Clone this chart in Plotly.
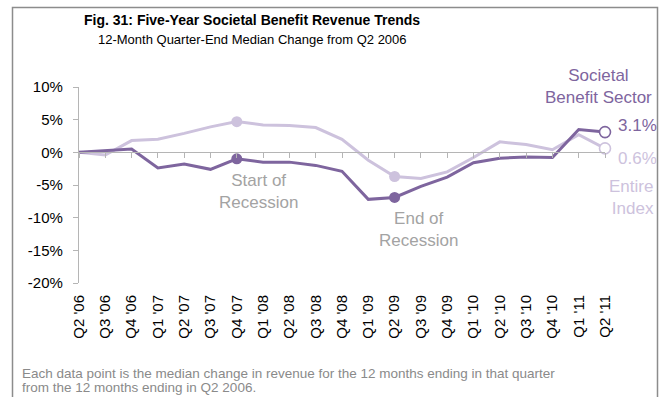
import plotly.graph_objects as go

# Quarter labels, Q2 2006 through Q2 2011
quarters = ["Q2 '06", "Q3 '06", "Q4 '06", "Q1 '07", "Q2 '07", "Q3 '07", "Q4 '07",
            "Q1 '08", "Q2 '08", "Q3 '08", "Q4 '08", "Q1 '09", "Q2 '09", "Q3 '09",
            "Q4 '09", "Q1 '10", "Q2 '10", "Q3 '10", "Q4 '10", "Q1 '11", "Q2 '11"]

# 12-month median revenue change vs. Q2 2006 (%)
societal_benefit = [0.0, 0.2, 0.5, -2.4, -1.8, -2.6, -1.0, -1.5, -1.5, -2.0, -2.9,
                    -7.2, -6.9, -5.2, -3.8, -1.6, -0.9, -0.7, -0.8, 3.5, 3.1]
entire_index = [0.0, -0.4, 1.8, 2.0, 2.9, 3.9, 4.7, 4.2, 4.1, 3.8, 2.0,
                -1.2, -3.7, -4.0, -3.0, -0.8, 1.6, 1.2, 0.4, 2.7, 0.6]

# Value-axis ticks
y_ticks = [10, 5, 0, -5, -10, -15, -20]
y_tick_text = ["10%", "5%", "0%", "-5%", "-10%", "-15%", "-20%"]

recession_start = quarters.index("Q4 '07")
recession_end = quarters.index("Q2 '09")
last = len(quarters) - 1

DARK = "#7e659e"
LIGHT = "#cdc2dd"
GRAY_TXT = "#a3a3a3"
AXIS = "#b5b5b5"
FONT = "Liberation Sans, Arial, sans-serif"

W, H = 661, 397
ML, MR, MT, MB = 79, 56, 87, 114
PW, PH = W - ML - MR, H - MT - MB


def px(xp):
    return (xp - ML) / PW


def py(yp):
    return (H - MB - yp) / PH


xs = list(range(len(quarters)))
fig = go.Figure()

# Lines (light series underneath)
for vals, col in ((entire_index, LIGHT), (societal_benefit, DARK)):
    fig.add_trace(go.Scatter(x=xs, y=vals, mode="lines",
                             line=dict(color=col, width=3), cliponaxis=False,
                             hoverinfo="skip", showlegend=False))

# Recession start / end markers (filled) and latest-value markers (hollow)
for vals, col in ((entire_index, LIGHT), (societal_benefit, DARK)):
    idx = [recession_start, recession_end]
    fig.add_trace(go.Scatter(x=idx, y=[vals[i] for i in idx], mode="markers",
                             marker=dict(color=col, size=11, line=dict(width=0)),
                             cliponaxis=False, showlegend=False))
    fig.add_trace(go.Scatter(x=[last], y=[vals[last]], mode="markers",
                             marker=dict(color="white", size=11,
                                         line=dict(color=col, width=1.6)),
                             cliponaxis=False, showlegend=False))

fig.update_layout(
    width=W, height=H,
    margin=dict(l=ML, r=MR, t=MT, b=MB),
    paper_bgcolor="white", plot_bgcolor="white",
    font=dict(family=FONT, color="#000000", size=13),
    showlegend=False,
    xaxis=dict(range=[0, last], tickvals=xs, ticktext=quarters, tickangle=-90,
               showgrid=False, zeroline=False, showline=False, ticks="",
               ticklabelstandoff=8,
               tickfont=dict(size=15, color="#000000"), fixedrange=True),
    xaxis2=dict(range=[0, last], overlaying="x", anchor="free",
                position=2 / 3, tickvals=xs, showticklabels=False,
                showgrid=False, zeroline=False, showline=True,
                linecolor=AXIS, linewidth=1.3, ticks="outside",
                ticklen=5, tickcolor=AXIS, tickwidth=1.3),
    yaxis=dict(range=[-20, 10], tickvals=y_ticks, ticktext=y_tick_text,
               showgrid=False, zeroline=False, showline=True, linecolor=AXIS,
               linewidth=1.3, ticks="outside", ticklen=5, tickcolor=AXIS,
               tickwidth=1.3, ticklabelstandoff=7,
               tickfont=dict(size=15, color="#000000")),
)

# Dummy trace so the overlaying axis with the zero-line ticks is drawn
fig.add_trace(go.Scatter(x=[0], y=[0], xaxis="x2", mode="markers",
                         marker=dict(opacity=0), hoverinfo="skip",
                         showlegend=False))

# Outer frame
fig.add_shape(type="rect", xref="paper", yref="paper",
              x0=px(12.5), x1=px(657.5), y0=py(420), y1=py(7.5),
              line=dict(color="#8c8c8c", width=1.5), layer="below")

ann = [
    dict(text="<b>Fig. 31: Five-Year Societal Benefit Revenue Trends</b>",
         x=px(252), y=py(20), font=dict(size=14, color="#000000")),
    dict(text="12-Month Quarter-End Median Change from Q2 2006",
         x=px(252), y=py(40), font=dict(size=13, color="#000000")),
    dict(text="Start of<br>Recession", x=px(258), y=py(191),
         font=dict(size=17, color=GRAY_TXT)),
    dict(text="End of<br>Recession", x=px(418), y=py(229),
         font=dict(size=17, color=GRAY_TXT)),
    dict(text="Societal<br>Benefit Sector", x=px(598), y=py(86.5),
         font=dict(size=17, color=DARK)),
    dict(text=f"{societal_benefit[last]:.1f}%", x=px(616), y=py(125),
         xanchor="left", font=dict(size=17, color=DARK)),
    dict(text=f"{entire_index[last]:.1f}%", x=px(616), y=py(158),
         xanchor="left", font=dict(size=17, color=LIGHT)),
    dict(text="Entire<br>Index", x=px(656), y=py(197), xanchor="right",
         align="right", font=dict(size=17, color=LIGHT)),
    # Footnote, one annotation per line to keep the spacing tight
    dict(text="Each data point is the median change in revenue for the 12 months "
              "ending in that quarter",
         x=px(20), y=py(373), xanchor="left",
         font=dict(size=13.5, color="#8a8a8a")),
    dict(text="from the 12 months ending in Q2 2006.",
         x=px(20), y=py(387), xanchor="left",
         font=dict(size=13.5, color="#8a8a8a")),
]
for a in ann:
    a.setdefault("xanchor", "center")
    a.setdefault("yanchor", "middle")
    fig.add_annotation(xref="paper", yref="paper", showarrow=False, **a)

fig.write_html("out.html")
